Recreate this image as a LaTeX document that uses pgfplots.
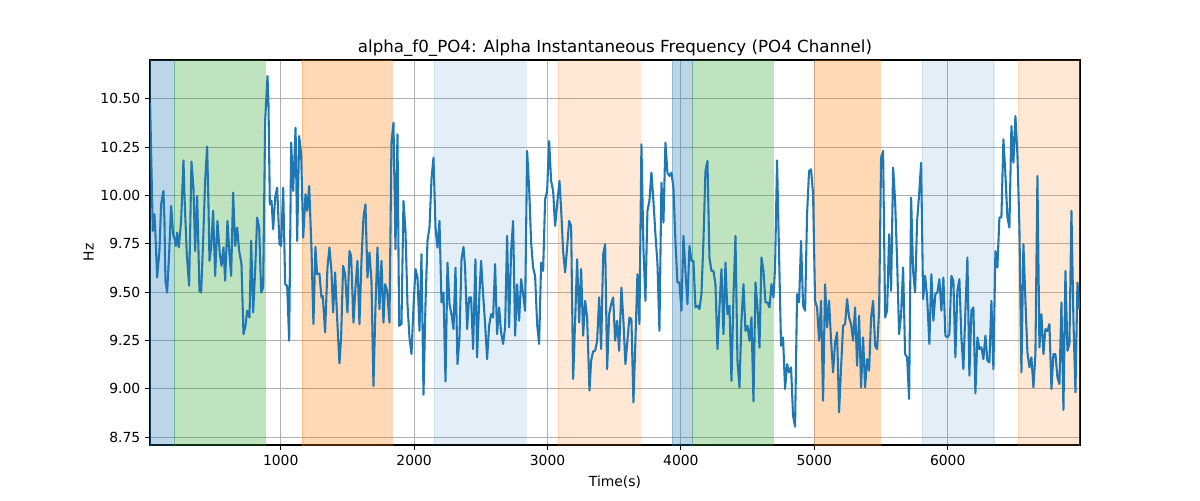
\documentclass[border=0pt]{standalone}
\usepackage{pgfplots}
\pgfplotsset{compat=1.18}
\usepackage{fontspec}
\setmainfont{DejaVu Sans}
\definecolor{tabblue}{HTML}{1F77B4}
\definecolor{tabgreen}{HTML}{2CA02C}
\definecolor{taborange}{HTML}{FF7F0E}
\definecolor{gridgray}{HTML}{B0B0B0}
\begin{document}
\begin{tikzpicture}
\path[use as bounding box] (0,0) rectangle (864pt,360pt);
\begin{axis}[
  at={(108pt,39.6pt)}, anchor=south west,
  scale only axis, width=669.6pt, height=277.2pt,
  xmin=20, xmax=6992, ymin=8.71, ymax=10.70,
  xtick={1000,2000,3000,4000,5000,6000},
  ytick={8.75,9.00,9.25,9.50,9.75,10.00,10.25,10.50},
  yticklabel style={/pgf/number format/.cd, fixed, fixed zerofill, precision=2},
  xticklabel style={/pgf/number format/.cd, 1000 sep={}},
  /pgf/number format/assume math mode=true,
  tick label style={font=\fontsize{10}{12}\selectfont},
  grid=major, major grid style={gridgray, line width=0.8pt},
  tick align=outside, tick pos=left,
  major tick length=3.5pt,
  every tick/.style={black, line width=0.8pt},
  axis line style={line width=0.8pt},
  title={alpha\_f0\_PO4: Alpha Instantaneous Frequency (PO4 Channel)},
  title style={font=\fontsize{12}{14}\selectfont, at={(0.5,1)}, anchor=south, yshift=-7pt},
  xlabel={Time(s)}, ylabel={Hz},
  label style={font=\fontsize{10}{12}\selectfont},
  xlabel style={yshift=-0.5pt},
  ylabel style={yshift=-2pt},
  span/.style={line width=0.8pt, fill=#1, draw=#1},
]
\addplot[span=tabblue, fill opacity=0.3, draw opacity=0.3] coordinates {(21,8) (201,8) (201,11) (21,11)} -- cycle;
\addplot[span=tabgreen, fill opacity=0.3, draw opacity=0.3] coordinates {(201,8) (883,8) (883,11) (201,11)} -- cycle;
\addplot[span=taborange, fill opacity=0.3, draw opacity=0.3] coordinates {(1162,8) (1835,8) (1835,11) (1162,11)} -- cycle;
\addplot[span=tabblue, fill opacity=0.12, draw opacity=0.12] coordinates {(2152,8) (2840,8) (2840,11) (2152,11)} -- cycle;
\addplot[span=taborange, fill opacity=0.17, draw opacity=0.17] coordinates {(3082,8) (3694,8) (3694,11) (3082,11)} -- cycle;
\addplot[span=tabblue, fill opacity=0.3, draw opacity=0.3] coordinates {(3936,8) (4089,8) (4089,11) (3936,11)} -- cycle;
\addplot[span=tabgreen, fill opacity=0.3, draw opacity=0.3] coordinates {(4089,8) (4691,8) (4691,11) (4089,11)} -- cycle;
\addplot[span=taborange, fill opacity=0.3, draw opacity=0.3] coordinates {(5003,8) (5493,8) (5493,11) (5003,11)} -- cycle;
\addplot[span=tabblue, fill opacity=0.12, draw opacity=0.12] coordinates {(5809,8) (6347,8) (6347,11) (5809,11)} -- cycle;
\addplot[span=taborange, fill opacity=0.17, draw opacity=0.17] coordinates {(6530,8) (6992,8) (6992,11) (6530,11)} -- cycle;
\addplot[tabblue, line width=1.5pt, line join=round] coordinates {
(20.8,10.479) (40.8,9.817) (53.3,9.903) (60.8,9.799) (73.3,9.576) (90.8,9.713) (103.3,9.954) (120.8,10.023) (128.3,9.868) (135.8,9.559) (148.3,9.498) (163.3,9.696) (178.3,9.946) (193.3,9.799) (208.3,9.765) (213.3,9.739) (223.3,9.808) (235.8,9.731) (253.3,9.868) (270.8,10.181) (280.8,9.954) (295.8,9.696) (313.3,9.533) (330.8,10.175) (345.8,10.040) (358.3,9.713) (373.3,9.997) (390.8,9.507) (403.3,9.498) (418.3,9.765) (433.3,10.075) (448.3,10.252) (458.3,9.954) (465.8,9.662) (478.3,9.731) (493.3,9.920) (508.3,9.584) (525.8,9.868) (543.3,9.696) (555.8,9.636) (570.8,9.731) (583.3,9.559) (600.8,9.868) (615.8,9.696) (628.3,9.584) (643.3,10.015) (658.3,9.739) (673.3,9.834) (688.3,9.713) (705.8,9.645) (720.8,9.283) (735.8,9.326) (748.3,9.404) (765.8,9.369) (778.3,9.765) (793.3,9.395) (808.3,9.610) (823.3,9.886) (838.3,9.834) (853.3,9.498) (868.3,9.524) (883.3,10.385) (900.8,10.617) (908.3,10.471) (918.3,9.954) (930.8,9.972) (943.3,9.825) (958.3,9.989) (973.3,10.040) (990.8,9.748) (1003.3,9.739) (1018.3,10.040) (1033.3,9.541) (1048.3,9.533) (1063.3,9.249) (1078.3,10.273) (1093.3,10.023) (1111.3,10.350) (1123.3,9.765) (1138.3,10.307) (1153.3,10.212) (1168.3,9.782) (1185.8,10.006) (1198.3,9.920) (1213.3,10.049)
(1230.2,9.731) (1245.2,9.335) (1260.2,9.734) (1272.7,9.593) (1290.2,9.596) (1305.2,9.473) (1315.2,9.481) (1332.7,9.292) (1350.2,9.627) (1365.2,9.731) (1380.2,9.610) (1392.7,9.395) (1407.7,9.602) (1422.7,9.369) (1440.2,9.132) (1452.7,9.266) (1467.7,9.636) (1482.7,9.593) (1500.2,9.395) (1515.2,9.713) (1527.7,9.688) (1545.2,9.343) (1560.2,9.524) (1575.2,9.662) (1590.2,9.335) (1605.2,9.662) (1620.2,9.886) (1635.2,9.954) (1650.2,9.576) (1665.2,9.705) (1680.2,9.559) (1695.2,9.016) (1710.2,9.421) (1725.2,9.731) (1740.2,9.412) (1755.2,9.662) (1770.2,9.343) (1782.7,9.541) (1797.7,9.507) (1815.2,9.343) (1830.2,10.273) (1845.2,10.376) (1860.2,9.722) (1875.2,10.316) (1887.7,9.326) (1905.2,9.335) (1920.2,9.972) (1935.2,9.817) (1950.2,9.438) (1965.2,9.266) (1980.2,9.180) (1995.2,9.421) (2010.2,9.619) (2025.2,9.576) (2040.2,9.300) (2055.2,9.696) (2070.2,8.970) (2085.2,9.438) (2100.2,9.765) (2115.2,9.834) (2130.2,10.083) (2145.2,10.195) (2160.2,9.834) (2175.2,9.731) (2190.2,9.868) (2205.2,9.447) (2220.2,9.498) (2235.2,9.039) (2250.2,9.653) (2265.2,9.438) (2280.2,9.386) (2295.2,9.309) (2310.2,9.627) (2325.2,9.128) (2340.2,9.266) (2355.2,9.670) (2370.2,9.734)
(2382.1,9.627) (2397.1,9.309) (2412.1,9.473) (2427.1,9.473) (2442.1,9.206) (2459.6,9.670) (2472.1,9.163) (2489.6,9.490) (2502.1,9.662) (2517.1,9.490) (2532.1,9.335) (2547.1,9.154) (2562.1,9.326) (2577.1,9.386) (2592.1,9.369) (2607.1,9.645) (2622.1,9.283) (2637.1,9.421) (2652.1,9.292) (2667.1,9.232) (2682.1,9.318) (2697.1,9.791) (2712.1,9.318) (2727.1,9.713) (2742.1,9.868) (2757.1,9.275) (2772.1,9.541) (2787.1,9.352) (2802.1,9.567) (2817.1,9.490) (2832.1,9.404) (2847.1,10.230) (2862.1,10.040) (2877.1,9.756) (2892.1,9.627) (2907.1,9.584) (2922.1,9.335) (2937.1,9.232) (2952.1,9.653) (2967.1,9.610) (2982.1,9.980) (2997.1,10.023) (3012.1,10.281) (3027.1,10.075) (3042.1,10.023) (3057.1,9.842) (3072.1,9.954) (3089.6,10.075) (3102.1,9.929) (3117.1,9.713) (3132.1,9.602) (3147.1,9.731) (3162.1,9.868) (3177.1,9.842) (3192.1,9.051) (3207.1,9.352) (3222.1,9.670) (3237.1,9.343) (3252.1,9.619) (3267.1,9.275) (3282.1,9.455) (3297.1,9.369) (3314.6,8.991) (3327.1,9.146) (3342.1,9.194) (3357.1,9.197) (3372.1,9.249) (3387.1,9.473) (3402.1,9.206) (3417.1,9.696) (3432.1,9.748) (3447.1,9.102) (3462.1,9.386) (3477.1,9.438) (3492.1,9.473) (3507.1,9.249) (3522.1,9.352) (3537.1,9.197)
(3554,9.524) (3569,9.352) (3584,9.128) (3599,9.249) (3614,9.369) (3629,9.361) (3644,8.930) (3659,9.249) (3674,9.593) (3689,9.335) (3704,10.264) (3719,9.731) (3734,9.455) (3749,9.920) (3764,9.972) (3779,10.118) (3794,9.972) (3809,9.799) (3824,9.653) (3839,9.300) (3854,10.066) (3869,9.860) (3884,10.273) (3899,10.118) (3914,10.101) (3929,10.118) (3944,10.040) (3959,9.765) (3974,9.550) (3989,9.550) (4004,9.404) (4019,9.791) (4034,9.610) (4049,9.438) (4064,9.739) (4079,9.662) (4094,9.662) (4109,9.421) (4124,9.430) (4139,9.412) (4154,9.490) (4169,9.765) (4184,10.126) (4199,10.178) (4214,9.679) (4229,9.610) (4244,9.610) (4259,9.541) (4274,9.206) (4289,9.421) (4304,9.619) (4319,9.283) (4334,9.653) (4349,9.386) (4364,9.430) (4379,9.042) (4394,9.473) (4409,9.791) (4424,9.146) (4439,9.008) (4454,9.352) (4469,9.541) (4484,9.300) (4499,9.326) (4514,9.249) (4529,9.369) (4544,8.936) (4559,9.550) (4574,9.421) (4589,9.214) (4604,9.679) (4619,9.610) (4634,9.447) (4649,9.447) (4664,9.421) (4679,9.541) (4694,9.473)
(4705.8,9.627) (4720.8,10.181) (4735.8,9.696) (4750.8,9.223) (4765.8,9.266) (4780.8,8.999) (4795.8,9.128) (4810.8,9.085) (4825.8,9.111) (4840.8,8.862) (4855.8,8.805) (4870.8,9.490) (4885.8,9.447) (4900.8,9.765) (4915.8,9.430) (4930.8,9.404) (4945.8,9.903) (4960.8,10.126) (4975.8,10.135) (4990.8,10.006) (5005.8,9.455) (5020.8,9.421) (5035.8,9.249) (5050.8,9.455) (5065.8,8.939) (5080.8,9.541) (5095.8,9.318) (5110.8,9.455) (5125.8,9.249) (5140.8,9.085) (5155.8,9.240) (5170.8,9.292) (5185.8,8.879) (5200.8,9.111) (5215.8,9.326) (5230.8,9.335) (5245.8,9.464) (5260.8,9.369) (5275.8,9.335) (5290.8,9.249) (5305.8,9.421) (5320.8,9.120) (5335.8,9.378) (5350.8,9.008) (5365.8,9.266) (5380.8,9.008) (5395.8,9.154) (5410.8,9.094) (5425.8,9.369) (5440.8,9.455) (5455.8,9.223) (5470.8,9.206) (5485.8,9.404) (5500.8,10.195) (5515.8,10.230) (5530.8,9.369) (5545.8,9.404) (5560.8,9.799) (5575.8,9.507) (5590.8,10.144) (5605.8,9.972) (5620.8,9.662) (5635.8,9.283) (5650.8,9.386) (5665.8,9.627) (5680.8,9.180) (5695.8,9.163) (5710.8,8.948) (5725.8,9.989) (5740.8,9.610) (5755.8,9.498) (5770.8,9.868) (5785.8,10.006) (5800.8,10.169) (5815.8,9.464) (5830.8,9.584) (5845.8,9.473)
(5862.7,9.232) (5877.7,9.593) (5892.7,9.352) (5907.7,9.490) (5922.7,9.498) (5937.7,9.567) (5952.7,9.404) (5967.7,9.576) (5982.7,9.275) (5997.7,9.266) (6012.7,9.283) (6027.7,9.584) (6042.7,9.559) (6057.7,9.163) (6072.7,9.507) (6087.7,9.567) (6102.7,9.266) (6117.7,9.102) (6132.7,9.404) (6147.7,9.679) (6162.7,9.068) (6177.7,9.404) (6192.7,9.421) (6207.7,8.977) (6222.7,9.266) (6237.7,9.206) (6252.7,9.215) (6267.7,9.154) (6282.7,9.275) (6297.7,9.146) (6312.7,9.137) (6327.7,9.455) (6342.7,9.102) (6357.7,9.713) (6372.7,9.627) (6387.7,9.886) (6402.7,9.886) (6417.7,10.290) (6432.7,10.109) (6447.7,9.886) (6462.7,9.834) (6477.7,10.359) (6492.7,10.169) (6507.7,10.410) (6522.7,10.212) (6537.7,9.834) (6552.7,9.085) (6567.7,9.748) (6582.7,9.455) (6597.7,9.189) (6612.7,9.111) (6627.7,9.163) (6642.7,9.008) (6657.7,9.180) (6672.7,10.101) (6687.7,9.214) (6702.7,9.386) (6717.7,9.180) (6732.7,9.309) (6747.7,9.300) (6762.7,9.335) (6777.7,8.999) (6792.7,9.180) (6807.7,9.180) (6822.7,9.060) (6837.7,9.025) (6852.7,9.447) (6867.7,8.891) (6882.7,9.610) (6897.7,9.197) (6912.7,9.232) (6927.7,9.920) (6942.7,9.352) (6957.7,8.982) (6972.7,9.550) (6987.7,9.412)
};
\end{axis}
\end{tikzpicture}
\end{document}
